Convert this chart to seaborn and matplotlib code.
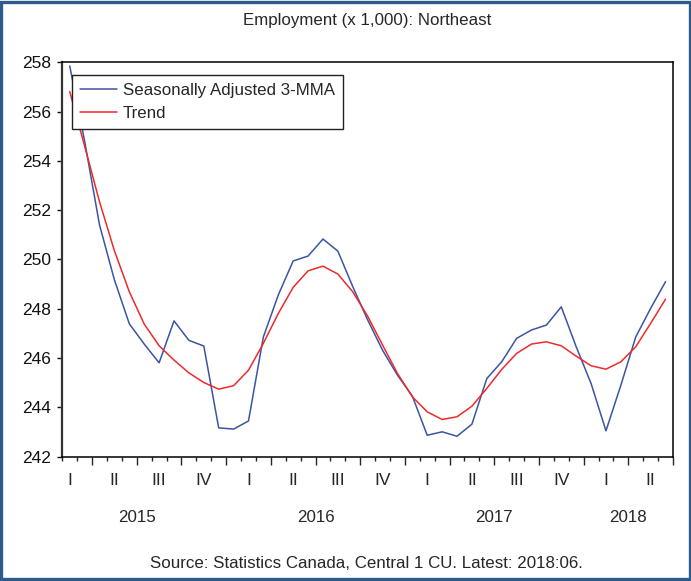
import numpy as np
import pandas as pd
import seaborn as sns
from matplotlib import pyplot as plt
from matplotlib.patches import Rectangle

# Monthly data, Feb 2015 - Jun 2018
START = "2015-02"
END = "2018-06"

SA_3MMA = [257.85, 254.8, 251.4, 249.17, 247.39, 246.57, 245.81, 247.51,
           246.72, 246.49, 243.17, 243.12, 243.45, 246.86, 248.56, 249.94,
           250.14, 250.83, 250.34, 248.9, 247.55, 246.32, 245.31, 244.46,
           242.87, 243.01, 242.83, 243.32, 245.17, 245.85, 246.80, 247.14,
           247.34, 248.08, 246.46, 244.97, 243.05, 244.90, 246.86, 248.02,
           249.10]
TREND = [256.81, 254.6, 252.34, 250.35, 248.69, 247.38, 246.50, 245.92,
         245.40, 245.01, 244.74, 244.88, 245.51, 246.60, 247.81, 248.87,
         249.54, 249.73, 249.41, 248.69, 247.7, 246.53, 245.38, 244.43,
         243.82, 243.51, 243.62, 244.05, 244.77, 245.54, 246.19, 246.57,
         246.66, 246.50, 246.08, 245.69, 245.55, 245.85, 246.46, 247.41,
         248.39]

SERIES = ["Seasonally Adjusted 3-MMA", "Trend"]
COLORS = {"Seasonally Adjusted 3-MMA": "#3B54A5", "Trend": "#EE2A2A"}
QUARTERS = ["I", "II", "III", "IV"]
YEARS = ["2015", "2016", "2017", "2018"]

TITLE = "Employment (x 1,000): Northeast"
SOURCE = "Source: Statistics Canada, Central 1 CU. Latest: 2018:06."
FS = 12.2

sns.set_style("ticks")
plt.rcParams["font.family"] = ["Liberation Sans", "DejaVu Sans"]

months = pd.period_range(START, END, freq="M")
t = np.arange(len(months))
df = pd.DataFrame({"t": np.concatenate([t, t]),
                   "value": SA_3MMA + TREND,
                   "series": np.repeat(SERIES, len(months))})

W, H = 691, 581
fig = plt.figure(figsize=(W / 100, H / 100), dpi=100)
left, right, top, bottom = 62.3, 673.0, 62.3, 456.7
ax = fig.add_axes([left / W, 1 - bottom / H, (right - left) / W, (bottom - top) / H])

sns.lineplot(data=df, x="t", y="value", hue="series", palette=COLORS,
             linewidth=1.1, ax=ax)

ax.set_xlim(-0.5, len(months) - 0.5)
ax.set_ylim(242, 258)
ax.set_yticks(np.arange(242, 259, 2))
ax.set_xlabel("")
ax.set_ylabel("")
for s in ax.spines.values():
    s.set_visible(True)
    s.set_linewidth(1.1)
    s.set_color("black")
ax.spines["left"].set_color("#333333")
ax.spines["left"].set_linewidth(1.6)
ax.tick_params(axis="y", labelsize=12.5, length=3.8, width=1, pad=4,
               direction="out", colors="#111111")

# month ticks (short) and quarter ticks (long)
bounds = t - 0.5
qmask = np.array([m.month in (1, 4, 7, 10) for m in months])
ax.set_xticks(np.append(bounds[qmask], len(months) - 0.5))
ax.set_xticks(bounds[~qmask], minor=True)
ax.tick_params(axis="x", which="major", length=5.5, width=1, labelbottom=False)
ax.tick_params(axis="x", which="minor", length=3.1, width=1, labelbottom=False)

# quarter labels at quarter centre months
for i, m in enumerate(months):
    if m.month in (2, 5, 8, 11):
        ax.annotate(QUARTERS[(m.month - 2) // 3], xy=(t[i], 0),
                    xycoords=("data", "axes fraction"), xytext=(0, -17),
                    textcoords="offset points", ha="center", va="center",
                    fontsize=12.5)

# year labels
for y in YEARS:
    idx = t[months.year == int(y)]
    if y == YEARS[0]:
        centre = idx[-1] - 5.5
    else:
        centre = (idx[0] + idx[-1]) / 2
    ax.annotate(y, xy=(centre, 0), xycoords=("data", "axes fraction"),
                xytext=(0, -44), textcoords="offset points",
                ha="center", va="center", fontsize=FS)

leg = ax.legend(loc="upper left", bbox_to_anchor=(0.0154, 0.968),
                borderaxespad=0, fontsize=FS, frameon=True, fancybox=False,
                framealpha=1, edgecolor="#222222", handlelength=2.15,
                handletextpad=0.35, labelspacing=0.45, borderpad=0.5)
leg.get_frame().set_linewidth(1.0)
for line in leg.get_lines():
    line.set_linewidth(1.1)

fig.text(367.5 / W, 1 - 20 / H, TITLE, ha="center", va="center", fontsize=FS)
fig.text(366.7 / W, 1 - 563 / H, SOURCE, ha="center", va="center", fontsize=FS)

fig.patches.append(Rectangle((0.002, 0.003), 0.996, 0.994,
                             transform=fig.transFigure, fill=False,
                             edgecolor="#2D5A8C", linewidth=2.4))

fig.savefig("out.png", dpi=100)
